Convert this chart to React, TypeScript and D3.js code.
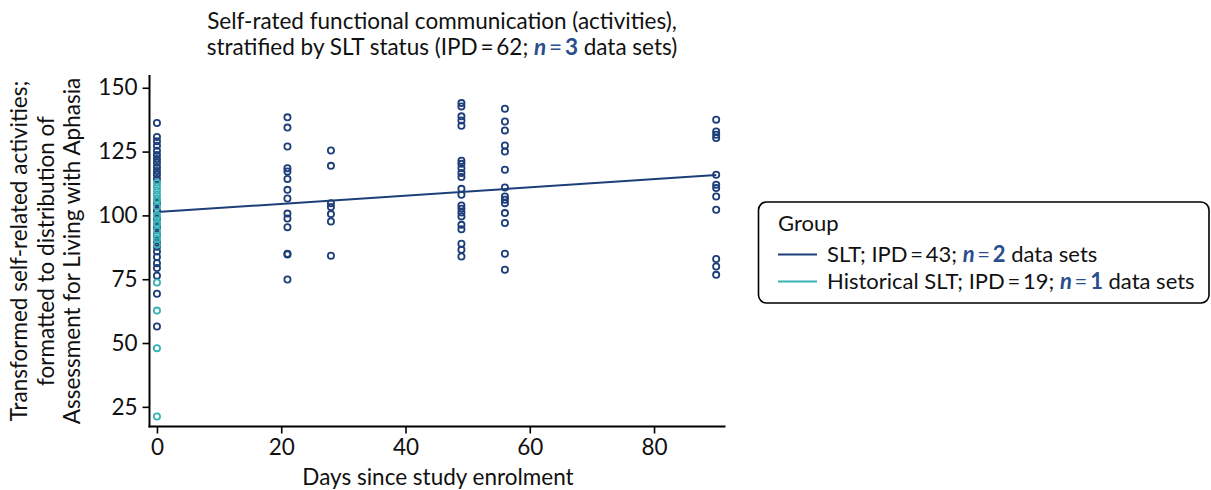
import { useEffect, useRef } from "react";
import * as d3 from "d3";

const W = 1211;
const H = 490;

const SLT_COLOR = "#1d3e78";
const HIST_COLOR = "#37b1b5";
const N_COLOR = "#2a4d8c";

// days since enrolment for each SLT column
const SLT_DAYS = [0, 21, 28, 49, 56, 90];

// SLT scores, one array per day in SLT_DAYS
const SLT_SCORES: number[][] = [
  [136.2, 130.7, 129, 127.3, 125.3, 123.7, 122.1, 120.6, 119, 117.4, 115.9, 114.3,
    104.9, 101.8, 98.7, 95.5, 92.4, 89.3, 87.7, 85.9, 83.7, 81.3, 79.4, 76.4, 69.3, 56.5],
  [138.4, 134.4, 127, 118.5, 117.2, 114.3, 110, 106.6, 100.7, 98.8, 95.4, 85, 84.7, 74.9],
  [125.4, 119.4, 104.8, 103.3, 100.5, 97.6, 84.2],
  [144, 142.7, 138.8, 137.2, 135.1, 121.4, 120.2, 118.5, 116.6, 115, 110.4, 108.1,
    103.9, 102.6, 101.1, 99.6, 96.3, 94.6, 88.9, 86.5, 83.9],
  [141.8, 136.8, 133.3, 127.4, 125, 117.9, 110.9, 107.4, 106.1, 104.8, 100.9, 97, 85, 78.7],
  [137.5, 132.9, 131.6, 130.3, 115.9, 112, 110.7, 107.4, 102.2, 82.9, 80, 76.7],
];

// Historical SLT: all at baseline (day 0)
const HIST_SCORES = [112.8, 111.2, 109.7, 108.1, 106.5, 105.6, 103.4, 100.2, 99.4, 97.1,
  96.3, 94, 92, 90.8, 88.5, 73.7, 62.7, 48, 21.2];

// fitted line for SLT group
const SLT_FIT = { intercept: 101.3, slope: 0.161 };

const X_TICKS = [0, 20, 40, 60, 80];
const Y_TICKS = [25, 50, 75, 100, 125, 150];

const FONT = "Lato, 'Open Sans', sans-serif";

export default function App() {
  const svgRef = useRef<SVGSVGElement>(null);

  useEffect(() => {
    const svg = d3.select(svgRef.current);
    svg.selectAll("*").remove();

    const x = d3.scaleLinear().domain([-1.2, 91.5]).range([149.5, 725.5]);
    const y = d3.scaleLinear().domain([17.3, 155]).range([426.5, 75]);

    const g = svg.append("g").attr("font-family", FONT);

    // Title
    const title = g.append("text")
      .attr("x", 442).attr("text-anchor", "middle")
      .attr("font-size", "22.5px").attr("fill", "#111");
    title.append("tspan").attr("x", 442).attr("y", 29)
      .text("Self-rated functional communication (activities),");
    const t2 = title.append("tspan").attr("x", 442).attr("y", 55);
    t2.append("tspan").text("stratified by SLT status (IPD\u2009=\u200962; ");
    t2.append("tspan").attr("fill", N_COLOR).attr("font-weight", 700)
      .attr("font-style", "italic").text("n");
    t2.append("tspan").attr("fill", N_COLOR).text("\u2009=\u2009");
    t2.append("tspan").attr("fill", N_COLOR).attr("font-weight", 700).text("3");
    t2.append("tspan").text(" data sets)");

    // Axes
    g.append("g").attr("transform", `translate(0,${y.range()[0]})`)
      .call(d3.axisBottom(x).tickValues(X_TICKS).tickSize(7).tickPadding(6))
      .call((sel) => {
        sel.select(".domain").attr("stroke", "#000").attr("stroke-width", 2)
          .attr("d", `M${x.range()[0] - 1},0H${x.range()[1]}`);
        sel.selectAll(".tick line").attr("stroke", "#000").attr("stroke-width", 1.6);
        sel.selectAll(".tick text").attr("fill", "#111").attr("font-size", "22.5px")
          .attr("font-family", FONT);
      });
    g.append("g").attr("transform", `translate(${x.range()[0]},0)`)
      .call(d3.axisLeft(y).tickValues(Y_TICKS).tickSize(7).tickPadding(5))
      .call((sel) => {
        sel.select(".domain").attr("stroke", "#000").attr("stroke-width", 2)
          .attr("d", `M0,${y.range()[1]}V${y.range()[0] + 1}`);
        sel.selectAll(".tick line").attr("stroke", "#000").attr("stroke-width", 1.6);
        sel.selectAll(".tick text").attr("fill", "#111").attr("font-size", "22.5px")
          .attr("font-family", FONT);
      });

    // Axis titles
    g.append("text")
      .attr("x", 438).attr("y", 485).attr("text-anchor", "middle")
      .attr("font-size", "22.5px").attr("fill", "#111")
      .text("Days since study enrolment");
    const yLines = [
      "Transformed self-related activities;",
      "formatted to distribution of",
      "Assessment for Living with Aphasia",
    ];
    yLines.forEach((line, i) => {
      g.append("text")
        .attr("transform", `translate(${27 + i * 26.5},251) rotate(-90)`)
        .attr("text-anchor", "middle").attr("font-size", "22.5px").attr("fill", "#111")
        .text(line);
    });

    // Points
    const sltPts = SLT_DAYS.flatMap((d, i) => SLT_SCORES[i].map((v) => ({ d, v })));
    g.append("g").selectAll("circle").data(sltPts).enter().append("circle")
      .attr("cx", (p) => x(p.d)).attr("cy", (p) => y(p.v)).attr("r", 3.1)
      .attr("fill", "none").attr("stroke", SLT_COLOR).attr("stroke-width", 1.8);

    // Fitted line
    g.append("line")
      .attr("x1", x(0)).attr("y1", y(SLT_FIT.intercept))
      .attr("x2", x(90)).attr("y2", y(SLT_FIT.intercept + SLT_FIT.slope * 90))
      .attr("stroke", SLT_COLOR).attr("stroke-width", 2);

    g.append("g").selectAll("circle").data(HIST_SCORES).enter().append("circle")
      .attr("cx", x(0)).attr("cy", (v) => y(v)).attr("r", 3.1)
      .attr("fill", "none").attr("stroke", HIST_COLOR).attr("stroke-width", 1.8);

    // Legend
    const lg = g.append("g");
    lg.append("rect").attr("x", 758.5).attr("y", 202).attr("width", 450.5).attr("height", 101)
      .attr("rx", 8).attr("fill", "#fff").attr("stroke", "#000").attr("stroke-width", 1.6);
    lg.append("text").attr("x", 778).attr("y", 231).attr("font-size", "22px").attr("fill", "#111")
      .text("Group");
    const rows = [
      { color: SLT_COLOR, pre: "SLT; IPD\u2009=\u200943; ", n: "2" },
      { color: HIST_COLOR, pre: "Historical SLT; IPD\u2009=\u200919; ", n: "1" },
    ];
    rows.forEach((r, i) => {
      const yy = 254.5 + i * 27;
      lg.append("line").attr("x1", 778).attr("x2", 817).attr("y1", yy).attr("y2", yy)
        .attr("stroke", r.color).attr("stroke-width", 2);
      const t = lg.append("text").attr("x", 827).attr("y", yy + 7.5)
        .attr("font-size", "22px").attr("fill", "#111");
      t.append("tspan").text(r.pre);
      t.append("tspan").attr("fill", N_COLOR).attr("font-weight", 700)
        .attr("font-style", "italic").text("n");
      t.append("tspan").attr("fill", N_COLOR).text("\u2009=\u2009");
      t.append("tspan").attr("fill", N_COLOR).attr("font-weight", 700).text(r.n);
      t.append("tspan").text(" data sets");
    });
  }, []);

  return (
    <div style={{ position: "fixed", left: 0, top: 0, width: W, height: H, background: "#fff" }}>
      <svg ref={svgRef} width={W} height={H} />
    </div>
  );
}
